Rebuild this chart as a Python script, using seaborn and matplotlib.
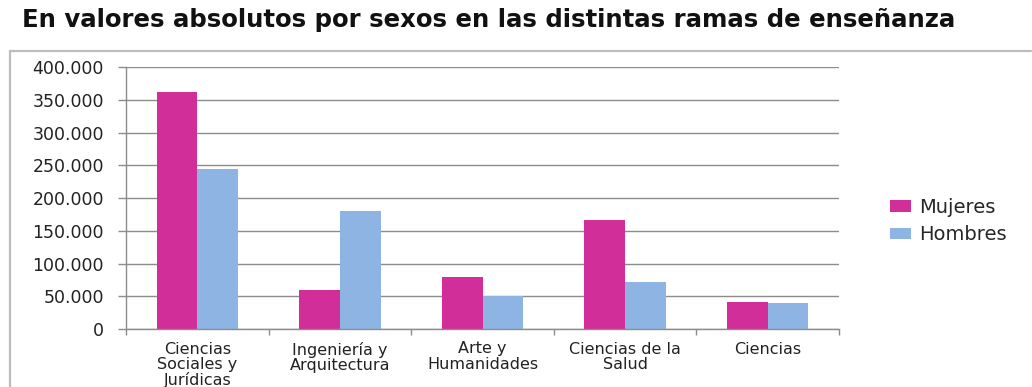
import matplotlib
matplotlib.use("Agg")
import matplotlib.pyplot as plt
from matplotlib.lines import Line2D
from matplotlib.ticker import FuncFormatter, FixedLocator
import seaborn as sns
import pandas as pd

# Students by branch of study and sex
ramas = ["Ciencias\nSociales y\nJurídicas", "Ingeniería y\nArquitectura",
         "Arte y\nHumanidades", "Ciencias de la\nSalud", "Ciencias"]
mujeres = [362000, 60000, 80000, 167000, 41000]
hombres = [245000, 181000, 50000, 72000, 39000]
sexos = ["Mujeres", "Hombres"]
colores = ["#D12E9A", "#8EB4E3"]

df = pd.DataFrame({
    "rama": ramas * 2,
    "sexo": [sexos[0]] * len(ramas) + [sexos[1]] * len(ramas),
    "valor": mujeres + hombres,
})

sns.set_theme(style="white")
plt.rcParams["font.family"] = ["DejaVu Sans"]

fig = plt.figure(figsize=(10.32, 3.87), dpi=100)
ax = fig.add_axes([126 / 1032, 1 - 329 / 387, (839 - 126) / 1032, (329 - 67.3) / 387])

sns.barplot(data=df, x="rama", y="valor", hue="sexo", hue_order=sexos,
            palette=colores, width=0.57, saturation=1, ax=ax, legend=True,
            edgecolor="none", linewidth=0)

ax.set_ylim(0, 400000)
ax.set_xlim(-0.5, len(ramas) - 0.5)
ax.set_yticks(range(0, 400001, 50000))
ax.yaxis.set_major_formatter(FuncFormatter(lambda v, p: f"{int(v):,}".replace(",", ".")))
ax.grid(axis="y", color="#8C8C8C", linewidth=1.0)
ax.set_axisbelow(True)

# category ticks sit on group boundaries, labels centred on each group
ax.xaxis.set_major_locator(FixedLocator([i - 0.5 for i in range(len(ramas) + 1)]))
ax.xaxis.set_minor_locator(FixedLocator(range(len(ramas))))
ax.set_xticklabels([], minor=False)
ax.set_xticklabels(ramas, minor=True, linespacing=1.02)
ax.tick_params(axis="x", which="major", length=4, width=1, color="#8C8C8C", direction="out", bottom=True)
ax.tick_params(axis="x", which="minor", length=0, pad=9, labelsize=11.5, labelcolor="#222222")
ax.tick_params(axis="y", length=6, width=1, color="#8C8C8C", direction="out", left=True, pad=10,
               labelsize=12.5, labelcolor="#222222")

for side in ["top", "right"]:
    ax.spines[side].set_visible(False)
for side in ["left", "bottom"]:
    ax.spines[side].set_color("#8C8C8C")
    ax.spines[side].set_linewidth(1.0)

ax.set_xlabel("")
ax.set_ylabel("")

handles, labels = ax.get_legend_handles_labels()
ax.legend(handles, labels, loc="center left", bbox_to_anchor=(872 / 1032, 1 - 221 / 387),
          bbox_transform=fig.transFigure, frameon=False, fontsize=14,
          handlelength=1.1, handleheight=0.55, handletextpad=0.4, labelspacing=0.45)

fig.text(22 / 1032, 1 - 20 / 387, "En valores absolutos por sexos en las distintas ramas de enseñanza",
         fontsize=17.6, fontweight="bold", color="#111111", va="center", ha="left")

# outer chart frame
fig.add_artist(Line2D([10 / 1032, 1031 / 1032], [1 - 51 / 387, 1 - 51 / 387],
                      transform=fig.transFigure, color="#BDBDBD", linewidth=1.6))
fig.add_artist(Line2D([10 / 1032, 10 / 1032], [1 - 51 / 387, 0],
                      transform=fig.transFigure, color="#BDBDBD", linewidth=1.6))

fig.savefig("out.png", dpi=100)
